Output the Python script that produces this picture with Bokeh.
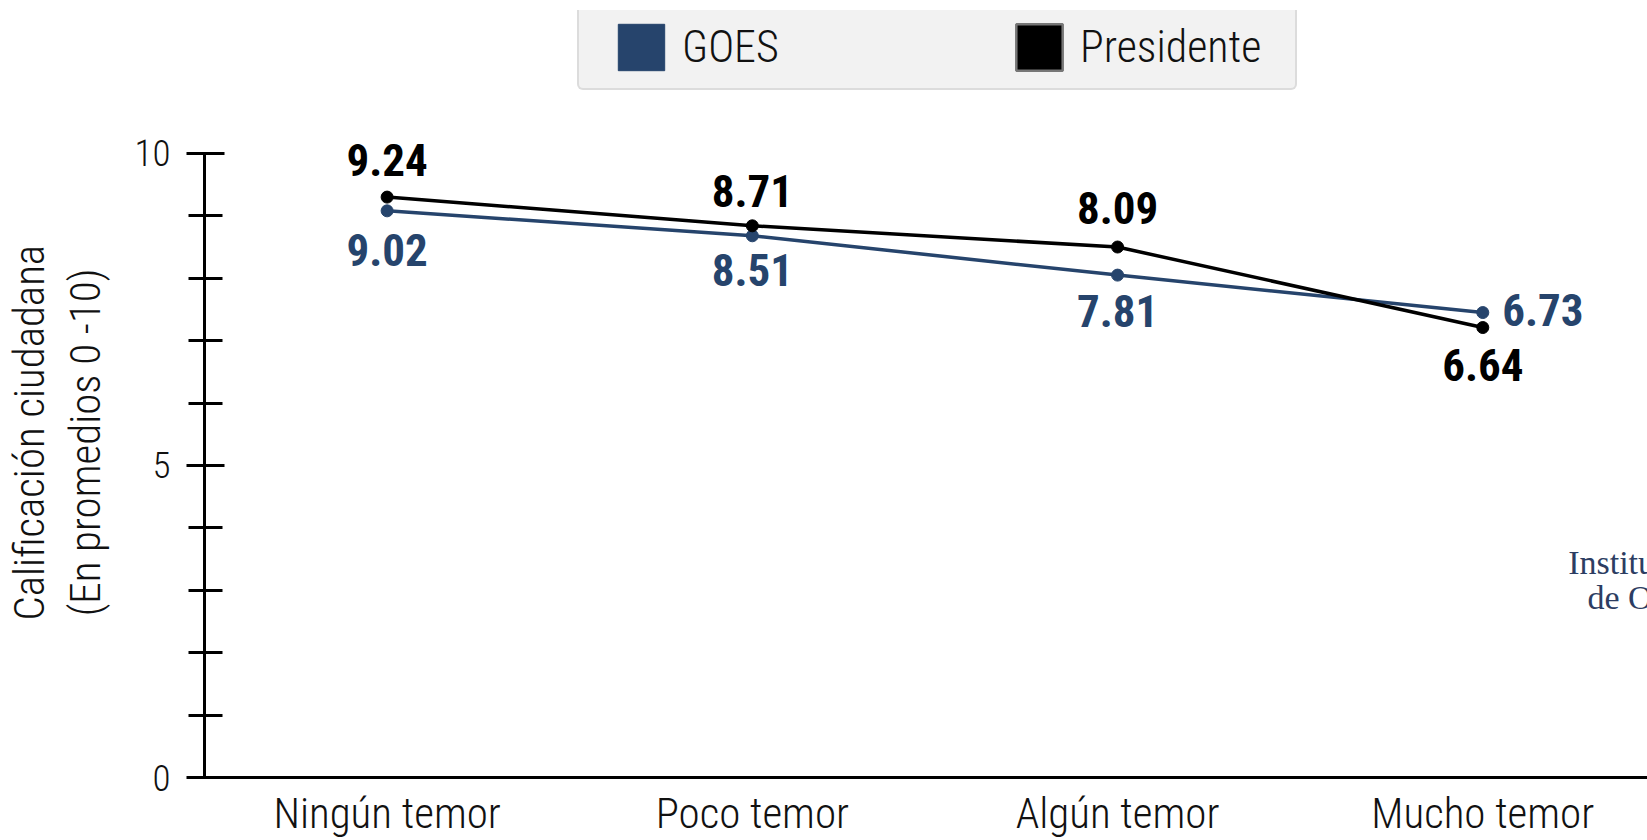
import subprocess
from bokeh.plotting import figure
from bokeh.models import Range1d, FixedTicker, Legend, LegendItem, LinearAxis
from bokeh.core.properties import value
from bokeh.embed import file_html
from bokeh.resources import INLINE

# ---- data ----
categories = ["Ningún temor", "Poco temor", "Algún temor", "Mucho temor"]
goes_values = [9.08, 8.68, 8.05, 7.45]      # plotted heights of the GOES points
pres_values = [9.30, 8.84, 8.50, 7.21]      # plotted heights of the Presidente points
goes_labels = ["9.02", "8.51", "7.81", "6.73"]
pres_labels = ["9.24", "8.71", "8.09", "6.64"]
series_names = ["GOES", "Presidente"]
y_major_ticks = [0, 5, 10]
y_minor_ticks = [1, 2, 3, 4, 6, 7, 8, 9]
y_title_lines = ["Calificación ciudadana", "(En promedios 0 -10)"]
watermark = ["Instituto Universitario", "de Opinión Pública"]

# ---- font choice (condensed sans if available) ----
try:
    fams = subprocess.run(["fc-list", ":", "family"], capture_output=True, text=True).stdout
except Exception:
    fams = ""
FONT = "Roboto"
for cand in ["Roboto Condensed", "Fira Sans Condensed", "IBM Plex Sans Condensed",
             "Sofia Sans Condensed", "Archivo Narrow", "PT Sans Narrow"]:
    if cand in fams:
        FONT = cand
        break
LIGHT = FONT + " Light" if (FONT + " Light") in fams else FONT

# ---- styles ----
NAVY = "#26446c"
goes_dx = [0, 0, 0, 60]
goes_dy = [39, 34, 36, -3]
pres_dx = [0, 0, 0, 0]
pres_dy = [-37, -35, -39, 37]
NBSP = "\u00a0"
title_pad = [8, 10]   # trailing no-break spaces that lower each title line

xs = list(range(len(categories)))

p = figure(width=1647, height=840, output_backend="svg", toolbar_location=None,
           x_range=Range1d(-0.5, 3.451), y_range=Range1d(0, 12.29),
           min_border_left=201, min_border_right=0, min_border_top=10,
           min_border_bottom=61)
p.background_fill_color = "white"
p.border_fill_color = "white"
p.outline_line_color = None
p.grid.visible = False

# series lines and points
p.line(xs, goes_values, line_color=NAVY, line_width=3.5)
p.scatter(xs, goes_values, size=12, fill_color=NAVY, line_color=NAVY)
p.line(xs, pres_values, line_color="black", line_width=3.5)
p.scatter(xs, pres_values, size=12, fill_color="black", line_color="black")

# value labels
p.text(x=xs, y=goes_values, text=goes_labels, x_offset=goes_dx, y_offset=goes_dy,
       text_align="center", text_baseline="alphabetic", text_font=value(FONT),
       text_font_style="bold", text_font_size="45px", text_color=NAVY)
p.text(x=xs, y=pres_values, text=pres_labels, x_offset=pres_dx, y_offset=pres_dy,
       text_align="center", text_baseline="alphabetic", text_font=value(FONT),
       text_font_style="bold", text_font_size="45px", text_color="black")

# watermark (clipped at the right edge, as in the reference)
last = xs[-1]
p.text(x=[last, last], y=[3.44, 2.88], text=watermark, x_offset=[236, 236],
       text_align="center", text_baseline="alphabetic",
       text_font=value("Liberation Serif"), text_font_size="34px",
       text_color="#2c3d62")

# legend swatches (legend only, nothing drawn in the plot)
nan = float("nan")
r_goes = p.quad(left=[nan], right=[nan], top=[nan], bottom=[nan],
                fill_color=NAVY, line_color=NAVY)
r_pres = p.quad(left=[nan], right=[nan], top=[nan], bottom=[nan],
                fill_color="black", line_color="#777777", line_width=2.5)
legend = Legend(items=[LegendItem(label=series_names[0], renderers=[r_goes]),
                       LegendItem(label=series_names[1], renderers=[r_pres])],
                orientation="horizontal", location=(373, 687),
                glyph_width=58, glyph_height=58, label_standoff=12,
                spacing=125, padding=12, margin=0, label_width=203,
                title=" ", title_location="left", title_standoff=20,
                title_text_font_size="1px",
                background_fill_color="#f2f2f2", background_fill_alpha=1,
                border_line_color="#c6c6c6", border_line_width=2,
                label_text_font=LIGHT, label_text_font_size="44px",
                label_text_color="#111111")
try:
    legend.border_radius = 6
except Exception:
    pass
p.add_layout(legend)

# y axis
ya = p.yaxis[0]
ya.ticker = FixedTicker(ticks=y_major_ticks, minor_ticks=y_minor_ticks)
ya.bounds = (0, 10)
ya.axis_line_width = 3
ya.major_tick_line_width = 3
ya.minor_tick_line_width = 3
ya.major_tick_in = 20
ya.major_tick_out = 18
ya.minor_tick_in = 18
ya.minor_tick_out = 16
ya.major_label_standoff = 16
ya.major_label_text_font = LIGHT
ya.major_label_text_font_size = "37px"
ya.major_label_text_color = "#111111"
ya.axis_label = y_title_lines[1] + NBSP * title_pad[1]
ya.axis_label_standoff = 22
ya.axis_label_text_font = LIGHT
ya.axis_label_text_font_size = "43px"
ya.axis_label_text_font_style = "normal"
ya.axis_label_text_color = "#111111"

# outer left axis carrying only the first title line
ya2 = LinearAxis(ticker=FixedTicker(ticks=[], minor_ticks=[]),
                 axis_line_color=None, major_tick_line_color=None,
                 minor_tick_line_color=None, major_tick_in=0, major_tick_out=0,
                 minor_tick_in=0, minor_tick_out=0, major_label_standoff=0,
                 axis_label=y_title_lines[0] + NBSP * title_pad[0],
                 axis_label_standoff=3,
                 axis_label_text_font=LIGHT, axis_label_text_font_size="43px",
                 axis_label_text_font_style="normal",
                 axis_label_text_color="#111111")
p.add_layout(ya2, "left")

# x axis
xa = p.xaxis[0]
xa.ticker = FixedTicker(ticks=xs)
xa.major_label_overrides = {i: c for i, c in enumerate(categories)}
xa.axis_line_width = 3
xa.major_tick_line_color = None
xa.minor_tick_line_color = None
xa.major_tick_in = 0
xa.major_tick_out = 0
xa.major_label_standoff = 10
xa.major_label_text_font = LIGHT
xa.major_label_text_font_size = "43px"
xa.major_label_text_color = "#111111"

open("out.html", "w").write(file_html(p, INLINE))
